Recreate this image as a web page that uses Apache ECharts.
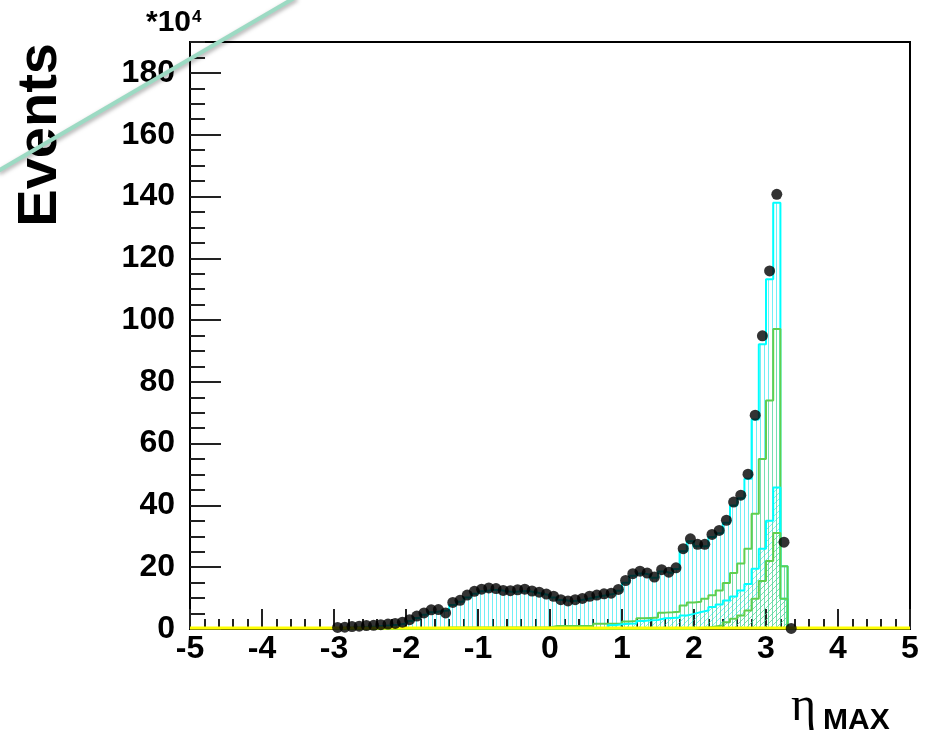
<!DOCTYPE html>
<html>
<head>
<meta charset="utf-8">
<script src="https://cdn.jsdelivr.net/npm/echarts@6/dist/echarts.min.js"></script>
<style>
  html, body { margin: 0; padding: 0; background: #ffffff; }
  #chart { width: 926px; height: 737px; }
</style>
</head>
<body>
<div id="chart"></div>
<script>
// Bin centres of the eta_max histogram (bin width 0.1)
const etaBins = [
  -2.95, -2.85, -2.75, -2.65, -2.55, -2.45, -2.35, -2.25, -2.15, -2.05,
  -1.95, -1.85, -1.75, -1.65, -1.55, -1.45, -1.35, -1.25, -1.15, -1.05,
  -0.95, -0.85, -0.75, -0.65, -0.55, -0.45, -0.35, -0.25, -0.15, -0.05,
   0.05,  0.15,  0.25,  0.35,  0.45,  0.55,  0.65,  0.75,  0.85,  0.95,
   1.05,  1.15,  1.25,  1.35,  1.45,  1.55,  1.65,  1.75,  1.85,  1.95,
   2.05,  2.15,  2.25,  2.35,  2.45,  2.55,  2.65,  2.75,  2.85,  2.95,
   3.05,  3.15,  3.25,  3.35
];
const binWidth = 0.1;

// Measured events (units of 10^4)
const dataEvents = [
  0.5, 0.6, 0.8, 0.9, 1.1, 1.2, 1.4, 1.6, 1.8, 2.2,
  3.0, 4.2, 5.2, 6.2, 6.3, 5.2, 8.6, 9.3, 11.0, 12.2,
  12.9, 13.3, 13.1, 12.5, 12.4, 12.7, 12.9, 12.3, 11.9, 11.3,
  10.6, 9.5, 9.1, 9.5, 9.9, 10.6, 11.0, 11.4, 11.6, 12.8,
  15.7, 17.9, 18.7, 18.1, 16.8, 19.2, 18.4, 19.8, 26.0, 29.2,
  27.4, 27.4, 30.6, 31.9, 35.2, 41.1, 43.3, 50.1, 69.2, 94.9,
  115.9, 140.7, 28.1, 0.2
];

// Simulation, total (outer cyan)
const mcTotal = [
  0.3, 0.4, 0.5, 0.6, 0.7, 0.8, 1.0, 1.2, 1.4, 1.8,
  2.6, 3.6, 4.6, 5.4, 5.8, 6.0, 7.8, 8.8, 10.2, 11.4,
  12.2, 12.6, 12.6, 12.2, 12.0, 12.2, 12.3, 11.9, 11.4, 10.9,
  10.2, 9.4, 9.0, 9.2, 9.6, 10.1, 10.6, 11.0, 11.4, 12.4,
  15.0, 17.2, 18.0, 17.6, 16.6, 18.6, 18.0, 19.4, 25.2, 28.4,
  26.8, 26.8, 29.8, 31.0, 34.4, 40.0, 42.3, 48.6, 67.8, 92.2,
  113.2, 138.0, 20.3, 0
];

// Simulation, outer green component
const mcGreenOuter = [
  0, 0, 0, 0, 0, 0, 0, 0, 0, 0,
  0, 0, 0, 0, 0, 0.5, 0.5, 0.5, 0.5, 0.5,
  0.5, 0.5, 0.5, 0.5, 0.5, 0.5, 0.5, 0.5, 0.5, 0.5,
  1.0, 1.0, 1.0, 1.0, 1.0, 1.0, 1.7, 1.7, 1.7, 1.7,
  2.4, 2.6, 3.5, 3.6, 3.7, 5.3, 5.4, 5.6, 7.6, 8.6,
  8.8, 9.8, 10.9, 12.5, 14.9, 18.1, 21.2, 26.0, 37.3, 55.0,
  74.0, 97.1, 20.3, 0
];

// Simulation, inner cyan component
const mcCyanInner = [
  0, 0, 0, 0, 0, 0, 0, 0, 0, 0,
  0, 0, 0, 0, 0, 0, 0, 0, 0, 0,
  0, 0, 0, 0, 0, 0, 0, 0, 0, 0,
  0, 0, 0, 0, 0, 0, 0, 0.2, 1.2, 1.5,
  1.7, 1.8, 2.6, 2.8, 2.9, 3.5, 3.6, 3.7, 4.4, 4.9,
  5.5, 6.0, 7.1, 7.9, 9.2, 10.5, 12.5, 14.6, 19.5, 26.0,
  35.0, 45.8, 9.8, 0
];

// Simulation, inner green component
const mcGreenInner = [
  0, 0, 0, 0, 0, 0, 0, 0, 0, 0,
  0, 0, 0, 0, 0, 0, 0, 0, 0, 0,
  0, 0, 0, 0, 0, 0, 0, 0, 0, 0,
  0, 0, 0, 0, 0, 0, 0, 0, 0, 0,
  0, 0, 0, 0, 0, 0, 0, 0, 0, 0,
  0.3, 0.5, 0.8, 1.1, 2.2, 3.3, 4.4, 6.0, 9.8, 15.5,
  22.0, 31.1, 9.8, 0
];

// Flat yellow component across the full range
const yellowRange = [-5, 5];
const yellowLevel = [0.3, 0.3];

const xRange = [-5, 5];
const yRange = [0, 190];

// Hatch pattern tiles
function hatch(color, kind, size) {
  const c = document.createElement('canvas');
  c.width = size; c.height = size;
  const g = c.getContext('2d');
  g.strokeStyle = color;
  g.lineWidth = 1;
  g.beginPath();
  if (kind === 'vertical') {
    g.moveTo(0.5, 0); g.lineTo(0.5, size);
  } else {
    g.moveTo(0, size); g.lineTo(size, 0);
    g.moveTo(-1, 1); g.lineTo(1, -1);
    g.moveTo(size - 1, size + 1); g.lineTo(size + 1, size - 1);
  }
  g.stroke();
  return { image: c, repeat: 'repeat' };
}

// Step outline of a histogram: starts and ends on the axis
function stepData(values) {
  const half = binWidth / 2;
  const pts = [[etaBins[0] - half, 0]];
  values.forEach((v, i) => pts.push([etaBins[i] - half, v]));
  pts.push([etaBins[etaBins.length - 1] + half, 0]);
  return pts;
}

function histSeries(name, values, lineColor, fill, z) {
  return {
    name, type: 'line', step: 'end', data: stepData(values),
    symbol: 'none', silent: true, z,
    lineStyle: { color: lineColor, width: 2 },
    areaStyle: { color: fill, opacity: 1 },
    animation: false
  };
}

const labelFont = { fontFamily: 'Liberation Sans', fontWeight: 'bold', fontSize: 32, color: '#000' };

const chart = echarts.init(document.getElementById('chart'), null, { renderer: 'canvas' });

chart.setOption({
  backgroundColor: '#ffffff',
  animation: false,
  grid: {
    left: 190, right: 16, top: 42, bottom: 108,
    show: true, borderColor: '#000', borderWidth: 2, backgroundColor: 'transparent'
  },
  xAxis: [
    {
      type: 'value', min: xRange[0], max: xRange[1], interval: 1,
      axisLine: { show: true, onZero: false, lineStyle: { color: '#000', width: 2 } },
      axisTick: { show: true, inside: true, length: 20, lineStyle: { color: '#222', width: 2 } },
      minorTick: { show: true, splitNumber: 5, length: 10, lineStyle: { color: '#222', width: 2 } },
      splitLine: { show: false },
      axisLabel: Object.assign({ margin: 4, showMinLabel: true, showMaxLabel: true }, labelFont)
    }
  ],
  yAxis: [
    {
      type: 'value', min: yRange[0], max: yRange[1], interval: 20,
      axisLine: { show: true, onZero: false, lineStyle: { color: '#000', width: 2 } },
      axisTick: { show: true, inside: true, length: 31, lineStyle: { color: '#222', width: 2 } },
      splitLine: { show: false },
      axisLabel: Object.assign({
        margin: 15, showMaxLabel: false, padding: [6, 0, 0, 0],
        formatter: v => (v % 20 === 0 ? String(v) : '')
      }, labelFont)
    },
    {
      type: 'value', min: yRange[0], max: yRange[1], interval: 5, position: 'left',
      axisLine: { show: false, onZero: false },
      axisTick: { show: true, inside: true, length: 15, lineStyle: { color: '#222', width: 2 } },
      splitLine: { show: false },
      axisLabel: { show: false }
    }
  ],
  series: [
    histSeries('Total', mcTotal, '#00ffff', hatch('rgba(0,225,235,0.55)', 'vertical', 4), 2),
    histSeries('Green outer', mcGreenOuter, '#5fcf4f', hatch('rgba(120,205,100,0.45)', 'vertical', 4), 3),
    histSeries('Cyan inner', mcCyanInner, '#00ffff', hatch('rgba(0,225,235,0.5)', 'diagonal', 6), 4),
    histSeries('Green inner', mcGreenInner, '#5fcf4f', hatch('rgba(120,205,100,0.5)', 'diagonal', 6), 5),
    {
      name: 'Yellow', type: 'line', symbol: 'none', silent: true, z: 6,
      data: yellowRange.map((x, i) => [x, yellowLevel[i]]),
      lineStyle: { color: '#ffff00', width: 3 }
    },
    {
      name: 'Data', type: 'scatter', z: 10, symbol: 'circle', symbolSize: 11,
      data: etaBins.map((x, i) => [x, dataEvents[i]]),
      itemStyle: { color: '#000' }
    }
  ],
  graphic: [
    {
      type: 'text', x: 41, y: 43, rotation: Math.PI / 2, z: 50,
      style: {
        text: 'Events', fill: '#000', align: 'right', verticalAlign: 'middle',
        font: 'bold 56px "Liberation Sans"'
      }
    },
    {
      type: 'text', x: 146, y: 23, z: 50,
      style: { text: '*10', fill: '#000', align: 'left', verticalAlign: 'middle', font: 'bold 30px "Liberation Sans"' }
    },
    {
      type: 'text', x: 192, y: 17, z: 50,
      style: { text: '4', fill: '#000', align: 'left', verticalAlign: 'middle', font: 'bold 17px "Liberation Sans"' }
    },
    {
      type: 'text', x: 791, y: 707, z: 50,
      style: { text: 'η', fill: '#000', align: 'left', verticalAlign: 'middle', font: '48px "Liberation Serif"' }
    },
    {
      type: 'text', x: 823, y: 721, z: 50,
      style: { text: 'MAX', fill: '#000', align: 'left', verticalAlign: 'middle', font: 'bold 30px "Liberation Sans"' }
    },
    {
      type: 'line', z: 60, silent: true,
      shape: { x1: -2, y1: 171, x2: 296, y2: -3 },
      style: {
        stroke: '#9cdac3', lineWidth: 4,
        shadowBlur: 4, shadowColor: 'rgba(0,0,0,0.35)', shadowOffsetX: 1, shadowOffsetY: 2
      }
    }
  ]
});
</script>
</body>
</html>
